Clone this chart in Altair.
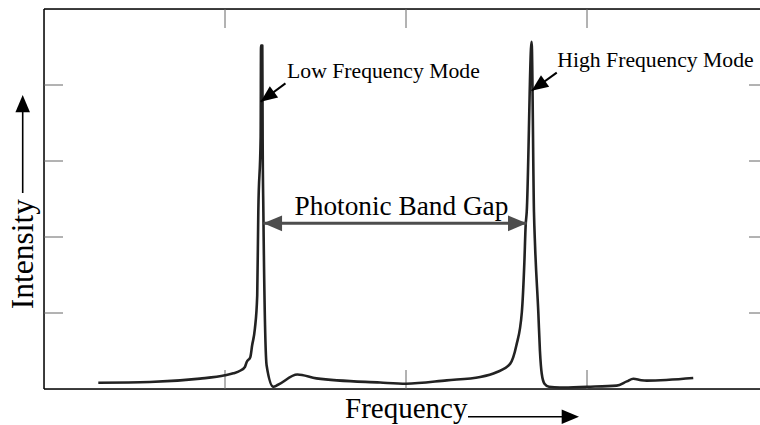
import altair as alt
import pandas as pd

# Measured transmission spectrum (arbitrary units)
freq = [0.30, 0.585, 0.862, 1.0, 1.046, 1.083, 1.11, 1.12, 1.14, 1.15, 1.165, 1.178,
        1.184, 1.197, 1.199, 1.206, 1.208, 1.212, 1.23, 1.267, 1.293, 1.40, 1.505,
        1.857, 2.0, 2.225, 2.41, 2.50, 2.575, 2.61, 2.64, 2.654, 2.661, 2.667, 2.694,
        2.707, 2.713, 2.731, 2.74, 2.75, 2.765, 2.79, 2.85, 3.0, 3.164, 3.22, 3.256,
        3.30, 3.33, 3.587]
intensity = [0.083, 0.092, 0.136, 0.18, 0.206, 0.24, 0.29, 0.355, 0.42, 0.575, 0.79, 1.23,
             2.33, 3.32, 4.52, 4.52, 3.3, 2.33, 0.31, 0.03, 0.056, 0.19, 0.14,
             0.085, 0.07, 0.114, 0.158, 0.22, 0.33, 0.575, 1.01, 1.67, 2.15, 2.33, 4.57,
             2.33, 1.89, 1.01, 0.5, 0.2, 0.07, 0.03, 0.02, 0.03, 0.045, 0.1, 0.135,
             0.115, 0.11, 0.145]

x_ticks = [1, 2, 3]
y_ticks = [1, 2, 3, 4]

mode_labels = ["Low Frequency Mode", "High Frequency Mode"]
mode_label_x = [1.343, 2.836]
mode_label_y = [4.088, 4.233]
mode_arrow_x0 = [1.334, 2.833]
mode_arrow_y0 = [4.022, 4.162]
mode_arrow_x1 = [1.197, 2.694]
mode_arrow_y1 = [3.78, 3.925]
mode_arrow_angle = [233.4, 234.2]

gap_label = "Photonic Band Gap"
gap_start, gap_end, gap_level = 1.212, 2.667, 2.18
gap_label_x, gap_label_y = 1.975, 2.29

W, H = 716, 380
FONT = "Liberation Serif"
HEAD = "M0,0L0.42,1L-0.42,1Z"  # arrowhead with its tip at the origin

xs = alt.Scale(domain=[0, 4], range=[0, 724], nice=False, zero=False)
ys = alt.Scale(domain=[0, 5], nice=False, zero=False)

one = pd.DataFrame({"k": [0]})
spec = pd.DataFrame({"f": freq, "i": intensity})
xt = pd.DataFrame({"t": x_ticks})
yt = pd.DataFrame({"t": y_ticks})
modes = pd.DataFrame({
    "label": mode_labels, "lx": mode_label_x, "ly": mode_label_y,
    "x0": mode_arrow_x0, "y0": mode_arrow_y0, "x1": mode_arrow_x1, "y1": mode_arrow_y1,
    "ang": mode_arrow_angle,
})
gap = pd.DataFrame({"x0": [gap_start], "x1": [gap_end], "y": [gap_level],
                    "lx": [gap_label_x], "ly": [gap_label_y], "label": [gap_label]})
gap_heads = pd.DataFrame({"x": [gap_start, gap_end], "y": [gap_level, gap_level],
                          "ang": [270, 90]})

frame_style = dict(color="black", strokeWidth=1.5)
tick_style = dict(color="#666666", strokeWidth=1)

frame_top = alt.Chart(one).mark_rule(**frame_style).encode(
    x=alt.value(0), x2=alt.value(724), y=alt.value(0))
frame_left = alt.Chart(one).mark_rule(**frame_style).encode(
    x=alt.value(0), y=alt.value(0), y2=alt.value(H))
frame_bottom = alt.Chart(one).mark_rule(**frame_style).encode(
    x=alt.value(0), x2=alt.value(724), y=alt.value(H))

ticks_top = alt.Chart(xt).mark_rule(**tick_style).encode(
    x=alt.X("t:Q", scale=xs, axis=None), y=alt.value(0), y2=alt.value(19))
ticks_bottom = alt.Chart(xt).mark_rule(**tick_style).encode(
    x=alt.X("t:Q", scale=xs, axis=None), y=alt.value(H - 19), y2=alt.value(H))
ticks_left = alt.Chart(yt).mark_rule(**tick_style).encode(
    y=alt.Y("t:Q", scale=ys, axis=None), x=alt.value(0), x2=alt.value(19))
ticks_right = alt.Chart(yt).mark_rule(**tick_style).encode(
    y=alt.Y("t:Q", scale=ys, axis=None), x=alt.value(705), x2=alt.value(724))

curve = alt.Chart(spec).mark_line(
    color="#222222", strokeWidth=2.6, strokeJoin="round", interpolate="monotone"
).encode(
    x=alt.X("f:Q", scale=xs, axis=None),
    y=alt.Y("i:Q", scale=ys, axis=None),
    order="f:Q",
)

mode_text = alt.Chart(modes).mark_text(
    font=FONT, fontSize=21.7, align="left", baseline="alphabetic", color="black"
).encode(x=alt.X("lx:Q", scale=xs), y=alt.Y("ly:Q", scale=ys), text="label:N")
mode_lines = alt.Chart(modes).mark_rule(color="black", strokeWidth=2).encode(
    x=alt.X("x0:Q", scale=xs), y=alt.Y("y0:Q", scale=ys), x2="x1:Q", y2="y1:Q")
mode_heads = alt.Chart(modes).mark_point(
    shape=HEAD, filled=True, color="black", size=1100, opacity=1
).encode(x=alt.X("x1:Q", scale=xs), y=alt.Y("y1:Q", scale=ys), angle=alt.Angle("ang:Q", scale=None))

gap_line = alt.Chart(gap).mark_rule(color="#4d4d4d", strokeWidth=3).encode(
    x=alt.X("x0:Q", scale=xs), x2="x1:Q", y=alt.Y("y:Q", scale=ys))
gap_arrow_heads = alt.Chart(gap_heads).mark_point(
    shape=HEAD, filled=True, color="#4d4d4d", size=1400, opacity=1
).encode(x=alt.X("x:Q", scale=xs), y=alt.Y("y:Q", scale=ys), angle=alt.Angle("ang:Q", scale=None))
gap_text = alt.Chart(gap).mark_text(
    font=FONT, fontSize=27.3, align="center", baseline="alphabetic", color="black"
).encode(x=alt.X("lx:Q", scale=xs), y=alt.Y("ly:Q", scale=ys), text="label:N")

# Axis titles with direction arrows, placed in the padding outside the frame
x_title = alt.Chart(one).mark_text(
    text="Frequency", font=FONT, fontSize=29, align="left", baseline="alphabetic", color="black"
).encode(x=alt.value(301), y=alt.value(409))
x_arrow = alt.Chart(one).mark_rule(color="black", strokeWidth=1.6).encode(
    x=alt.value(424), x2=alt.value(528), y=alt.value(407.7))
x_arrow_head = alt.Chart(one).mark_point(
    shape=HEAD, filled=True, color="black", size=1200, angle=90, opacity=1
).encode(x=alt.value(535), y=alt.value(407.7))

y_title = alt.Chart(one).mark_text(
    text="Intensity", font=FONT, fontSize=31.5, align="center", baseline="alphabetic",
    angle=270, color="black"
).encode(x=alt.value(-11), y=alt.value(245))
y_arrow = alt.Chart(one).mark_rule(color="black", strokeWidth=1.6).encode(
    x=alt.value(-21.3), y=alt.value(184), y2=alt.value(93))
y_arrow_head = alt.Chart(one).mark_point(
    shape=HEAD, filled=True, color="black", size=1200, angle=0, opacity=1
).encode(x=alt.value(-21.3), y=alt.value(86))

chart = alt.layer(
    frame_top, frame_left, frame_bottom,
    ticks_top, ticks_bottom, ticks_left, ticks_right,
    curve,
    gap_line, gap_arrow_heads, gap_text,
    mode_lines, mode_heads, mode_text,
    x_title, x_arrow, x_arrow_head,
    y_title, y_arrow, y_arrow_head,
).properties(
    width=W, height=H,
    autosize=alt.AutoSizeParams(type="none"),
    padding={"left": 44, "top": 9, "right": 0, "bottom": 36},
).configure_view(stroke=None).configure(background="white")

chart.save("out.html", embed_options={"renderer": "svg", "actions": False})
